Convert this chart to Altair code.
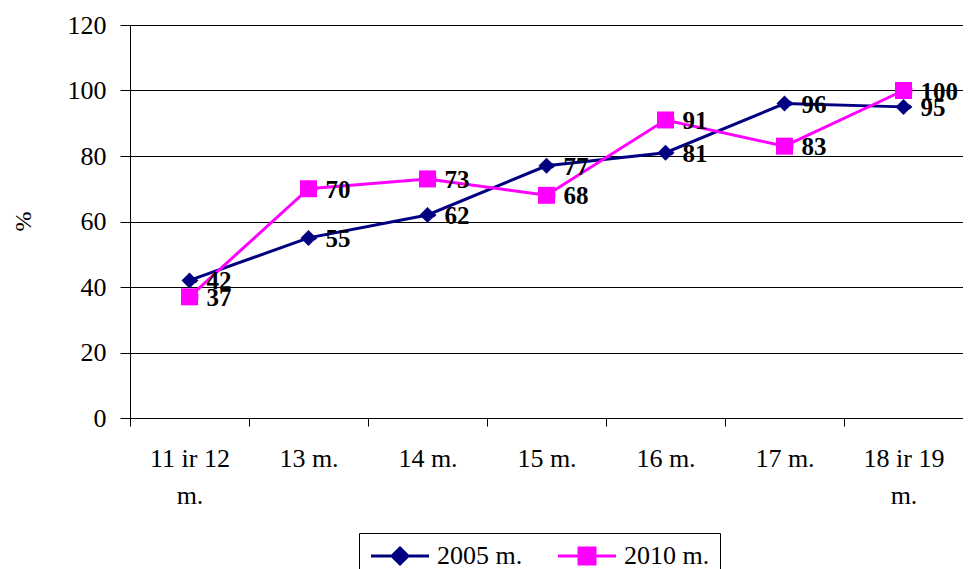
import altair as alt
import pandas as pd

categories = ["11 ir 12 m.", "13 m.", "14 m.", "15 m.", "16 m.", "17 m.", "18 ir 19 m."]
series_names = ["2005 m.", "2010 m."]
values_2005 = [42, 55, 62, 77, 81, 96, 95]
values_2010 = [37, 70, 73, 68, 91, 83, 100]
y_ticks = [0, 20, 40, 60, 80, 100, 120]
colors = ["#000080", "#FF00FF"]

rows = []
for c, v in zip(categories, values_2005):
    rows.append({"cat": c, "series": series_names[0], "value": v})
for c, v in zip(categories, values_2010):
    rows.append({"cat": c, "series": series_names[1], "value": v})
df = pd.DataFrame(rows)

FONT = "Liberation Serif"

x_enc = alt.X(
    "cat:N",
    sort=categories,
    scale=alt.Scale(paddingInner=0, paddingOuter=0),
    axis=alt.Axis(
        title=None,
        tickBand="extent",
        labelAngle=0,
        labelFont=FONT,
        labelFontSize=26,
        labelColor="black",
        labelPadding=19,
        labelLineHeight=37,
        labelBaseline="top",
        tickSize=8,
        tickColor="black",
        domainColor="black",
        labelExpr="indexof(datum.label, ' ir ') > 0 ? [slice(datum.label, 0, -3), 'm.'] : datum.label",
    ),
)
y_enc = alt.Y(
    "value:Q",
    scale=alt.Scale(domain=[0, 120], nice=False),
    axis=alt.Axis(
        title="%",
        values=y_ticks,
        grid=True,
        gridColor="black",
        gridWidth=1,
        gridOpacity=1,
        tickSize=10,
        tickColor="black",
        domainColor="black",
        labelFont=FONT,
        labelFontSize=26,
        labelColor="black",
        labelPadding=14,
        titleFont=FONT,
        titleFontSize=24,
        titleFontWeight="normal",
        titleColor="black",
        titleX=-107,
        titleY=196,
        titleBaseline="middle",
        titleAngle=270,
    ),
)

color_scale = alt.Scale(domain=series_names, range=colors)
base = alt.Chart(df)

legend_paths = [
    "M-1.375,0H5.875M2.25,-1L3.25,0L2.25,1L1.25,0Z",
    "M-1.375,0H5.875M1.25,-1H3.25V1H1.25Z",
]
leg = alt.Legend(
    title=None,
    orient="none",
    legendX=229,
    legendY=508,
    direction="horizontal",
    strokeColor="black",
    padding=10,
    labelFont=FONT,
    labelFontSize=26,
    labelColor="black",
    labelOffset=42,
    columnPadding=29,
    symbolSize=256,
    symbolStrokeWidth=3,
    symbolOpacity=1,
    symbolFillColor="black",
)

lines = base.mark_line(strokeWidth=3).encode(
    x=x_enc, y=y_enc,
    color=alt.Color("series:N", scale=color_scale, legend=leg),
    shape=alt.Shape("series:N", scale=alt.Scale(domain=series_names, range=legend_paths), legend=leg),
)

diamonds = base.transform_filter(alt.datum.series == series_names[0]).mark_point(
    shape="diamond", filled=True, size=256, opacity=1
).encode(x=x_enc, y=y_enc, color=alt.Color("series:N", scale=color_scale, legend=None))

squares = base.transform_filter(alt.datum.series == series_names[1]).mark_point(
    shape="square", filled=True, size=289, opacity=1
).encode(x=x_enc, y=y_enc, color=alt.Color("series:N", scale=color_scale, legend=None))

labels = base.mark_text(
    align="left", baseline="middle", dx=17, dy=1,
    font=FONT, fontSize=25, fontWeight="bold", color="black",
).encode(x=x_enc, y=y_enc, text="value:Q")

chart = alt.layer(lines, diamonds, squares, labels).properties(
    width=833,
    height=393,
    autosize="none",
    padding={"left": 122, "top": 17, "right": 0, "bottom": 151},
    background="white",
).configure_view(stroke=None)

chart.save("out.html", embed_options={"renderer": "svg", "actions": False})
